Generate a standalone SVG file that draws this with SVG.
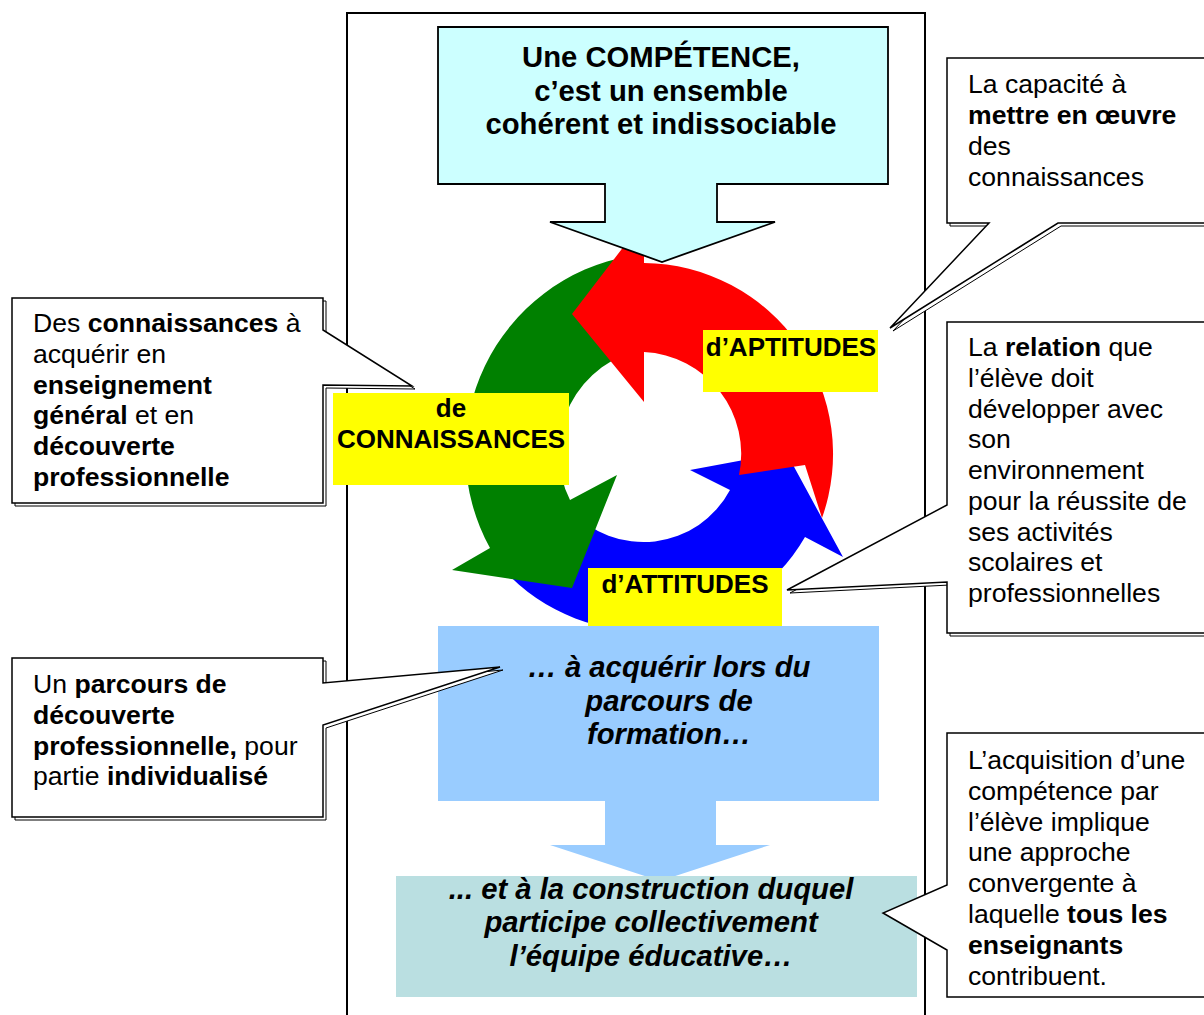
<svg xmlns="http://www.w3.org/2000/svg" width="1204" height="1015" viewBox="0 0 1204 1015">
<defs>
<style>
text { font-family: "Liberation Sans", Arial, sans-serif; fill: #000; }
.c { font-size: 26.6px; }
.b { font-weight: bold; }
.lbl { font-size: 26px; font-weight: bold; text-anchor: middle; }
.big { font-size: 29.25px; font-weight: bold; text-anchor: middle; }
.it { font-style: italic; }
.callout { fill: #fff; stroke: #000; stroke-width: 1.5; stroke-linejoin: miter; }
.shadow { fill: #fff; stroke: #000; stroke-width: 1; }
.yellow { fill: #FFFF00; }
</style>
</defs>
<rect x="0" y="0" width="1204" height="1015" fill="#fff"/>

<g id="frame">
<path d="M347,1016 V13 H925 V1016" fill="none" stroke="#000" stroke-width="2"/>
</g>

<g id="cycle">
<path id="arrow-blue" fill="#0000FF" d="M786,452 L843,557 L805,537 A188,188 0 0 1 503,569 L570,509 A98,98 0 0 0 730,490 L690,470 Z"/>
<path id="arrow-green" fill="#008000" d="M572,588 L452,570 L490,548 A199,199 0 0 1 630,256 L647,348 A106,106 0 0 0 570,500 L617,475 Z"/>
<path id="arrow-red" fill="#FF0000" d="M572,314 L644,220 L644,263 A191,191 0 0 1 822,518 L805,465 L739,475 A102,102 0 0 0 644,352 L644,402 Z"/>
</g>

<g id="competence">
<path d="M438,27 H888 V184 H717 V222 H775 L662,262 L550,222 H605 V184 H438 Z" fill="#CCFFFF" stroke="#000" stroke-width="1.8"/>
<text class="big" x="661" y="67">Une COMPÉTENCE,</text>
<text class="big" x="661" y="100.5">c’est un ensemble</text>
<text class="big" x="661" y="134">cohérent et indissociable</text>
</g>

<g id="label-connaissances">
<rect class="yellow" x="333" y="393" width="236" height="92"/>
<text class="lbl" x="451" y="417">de</text>
<text class="lbl" x="451" y="448">CONNAISSANCES</text>
</g>

<g id="label-aptitudes">
<rect class="yellow" x="703" y="330" width="175" height="62"/>
<text class="lbl" x="791" y="356">d’APTITUDES</text>
</g>

<g id="label-attitudes">
<rect class="yellow" x="588" y="568" width="194" height="58"/>
<text class="lbl" x="685" y="593">d’ATTITUDES</text>
</g>

<g id="connectors">
<polygon points="605,800 716,800 716,845 770,845 660,881 550,845 605,845" fill="#99CCFF"/>
</g>

<g id="parcours">
<rect x="438" y="626" width="441" height="175" fill="#99CCFF"/>
<text class="big it" x="669" y="677">… à acquérir lors du</text>
<text class="big it" x="669" y="711">parcours de</text>
<text class="big it" x="669" y="744">formation…</text>
</g>

<g id="equipe">
<rect x="396" y="876" width="521" height="121" fill="#BADFE1"/>
<text class="big it" x="651" y="899">... et à la construction duquel</text>
<text class="big it" x="651" y="932">participe collectivement</text>
<text class="big it" x="651" y="966">l’équipe éducative…</text>
</g>

<g id="callout-mettre-en-oeuvre">
<path class="shadow" transform="translate(3,3)" d="M947,58 H1210 V223 H1058 L890,328 L989,223 H947 Z"/>
<path class="callout" d="M947,58 H1210 V223 H1058 L890,328 L989,223 H947 Z"/>
<text class="c" x="968" y="93">La capacité à</text>
<text class="c b" x="968" y="124">mettre en œuvre</text>
<text class="c" x="968" y="155">des</text>
<text class="c" x="968" y="186">connaissances</text>
</g>

<g id="callout-relation">
<path class="shadow" transform="translate(3,3)" d="M947,322 H1210 V633 H947 V582 L787,590 L947,505 Z"/>
<path class="callout" d="M947,322 H1210 V633 H947 V582 L787,590 L947,505 Z"/>
<text class="c" x="968" y="356">La <tspan class="b">relation</tspan> que</text>
<text class="c" x="968" y="386.75">l’élève doit</text>
<text class="c" x="968" y="417.5">développer avec</text>
<text class="c" x="968" y="448.25">son</text>
<text class="c" x="968" y="479">environnement</text>
<text class="c" x="968" y="509.75">pour la réussite de</text>
<text class="c" x="968" y="540.5">ses activités</text>
<text class="c" x="968" y="571.25">scolaires et</text>
<text class="c" x="968" y="602">professionnelles</text>
</g>

<g id="callout-connaissances">
<path class="shadow" transform="translate(3,3)" d="M12,298 H323 V330 L412,386 L323,385 V503 H12 Z"/>
<path class="callout" d="M12,298 H323 V330 L412,386 L323,385 V503 H12 Z"/>
<text class="c" x="33" y="332">Des <tspan class="b">connaissances</tspan> à</text>
<text class="c" x="33" y="362.8">acquérir en</text>
<text class="c b" x="33" y="393.6">enseignement</text>
<text class="c" x="33" y="424.4"><tspan class="b">général</tspan> et en</text>
<text class="c b" x="33" y="455.2">découverte</text>
<text class="c b" x="33" y="486">professionnelle</text>
</g>

<g id="callout-parcours">
<path class="shadow" transform="translate(3,3)" d="M12,658 H323 V683 L500,667 L323,725 V817 H12 Z"/>
<path class="callout" d="M12,658 H323 V683 L500,667 L323,725 V817 H12 Z"/>
<text class="c" x="33" y="693">Un <tspan class="b">parcours de</tspan></text>
<text class="c b" x="33" y="723.8">découverte</text>
<text class="c" x="33" y="754.6"><tspan class="b">professionnelle,</tspan> pour</text>
<text class="c" x="33" y="785.4">partie <tspan class="b">individualisé</tspan></text>
</g>

<g id="callout-enseignants">
<path class="callout" d="M947,733 H1210 V997 H947 V950 L883,913 L947,885 Z"/>
<text class="c" x="968" y="769">L’acquisition d’une</text>
<text class="c" x="968" y="799.8">compétence par</text>
<text class="c" x="968" y="830.6">l’élève implique</text>
<text class="c" x="968" y="861.4">une approche</text>
<text class="c" x="968" y="892.2">convergente à</text>
<text class="c" x="968" y="923">laquelle <tspan class="b">tous les</tspan></text>
<text class="c b" x="968" y="953.8">enseignants</text>
<text class="c" x="968" y="984.6">contribuent.</text>
</g>
</svg>
